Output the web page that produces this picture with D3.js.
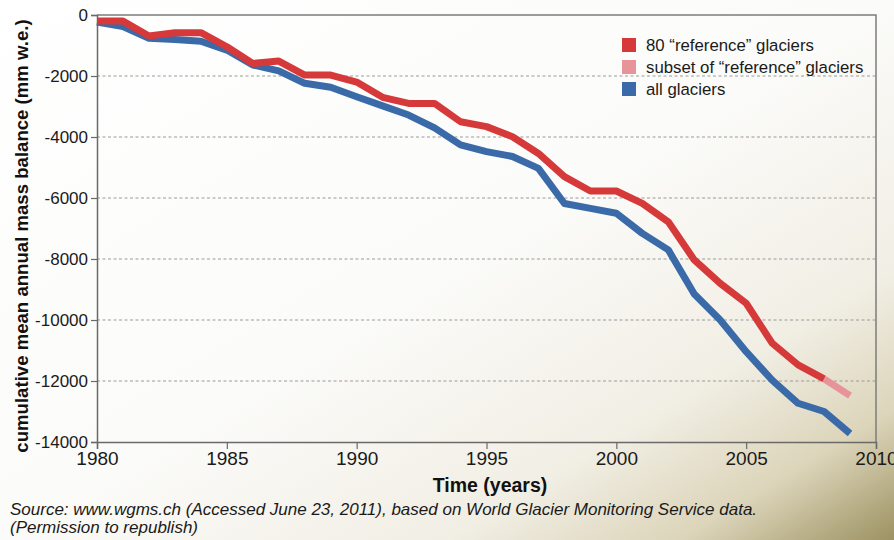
<!DOCTYPE html>
<html>
<head>
<meta charset="utf-8">
<script src="https://d3js.org/d3.v7.min.js"></script>
<style>
html,body{margin:0;padding:0;background:#fff;}
svg{display:block;}
text{font-family:"Liberation Sans",Arial,Helvetica,sans-serif;}
</style>
</head>
<body>
<svg id="chart" width="894" height="540"></svg>
<script>
// ---- data ----
const years = [1980,1981,1982,1983,1984,1985,1986,1987,1988,1989,1990,1991,1992,1993,1994,1995,1996,1997,1998,1999,2000,2001,2002,2003,2004,2005,2006,2007,2008,2009];
const referenceGlaciers = [-200,-200,-690,-580,-580,-1040,-1590,-1510,-1970,-1970,-2200,-2700,-2900,-2900,-3500,-3660,-3990,-4540,-5300,-5770,-5770,-6175,-6780,-8030,-8800,-9450,-10760,-11470,-11930];
const subsetYears = [2008,2009];
const subsetReference = [-11930,-12480];
const allGlaciers = [-230,-380,-760,-800,-860,-1150,-1640,-1830,-2240,-2370,-2680,-2980,-3280,-3700,-4260,-4480,-4640,-5030,-6180,-6340,-6500,-7160,-7700,-9150,-10000,-11040,-11970,-12730,-13000,-13720];
const xTicks = [1980,1985,1990,1995,2000,2005,2010];
const yTicks = [0,-2000,-4000,-6000,-8000,-10000,-12000,-14000];
const legendLabels = ["80 \u201creference\u201d glaciers","subset of \u201creference\u201d glaciers","all glaciers"];
const seriesColors = ["#d6393a","#e6939a","#3a6aa8"];

const svg = d3.select("#chart");
const W = 894, H = 540;

// background gradient
const defs = svg.append("defs");
const grad = defs.append("linearGradient").attr("id","bg")
  .attr("x1","0").attr("y1","0").attr("x2","1").attr("y2","1");
grad.append("stop").attr("offset","0").attr("stop-color","#ffffff");
grad.append("stop").attr("offset","0.5").attr("stop-color","#fbfbf9");
grad.append("stop").attr("offset","0.75").attr("stop-color","#f1eee4");
grad.append("stop").attr("offset","0.88").attr("stop-color","#dcd5ba");
grad.append("stop").attr("offset","1").attr("stop-color","#9d9262");
svg.append("rect").attr("width",W).attr("height",H).attr("fill","url(#bg)");

const m = {left:97, right:876, top:15, bottom:442};
const x = d3.scaleLinear().domain([1980,2010]).range([m.left,m.right]);
const y = d3.scaleLinear().domain([-14000,0]).range([m.bottom,m.top]);

// gridlines
svg.append("g").selectAll("line").data(yTicks.filter(d=>d!==0 && d!==-14000)).join("line")
  .attr("x1",m.left).attr("x2",m.right)
  .attr("y1",d=>y(d)).attr("y2",d=>y(d))
  .attr("stroke","#9a9a9a").attr("stroke-width",1).attr("stroke-dasharray","3,2.5");

// frame top & right
svg.append("path")
  .attr("d",`M${m.left},${m.top}H${m.right}V${m.bottom}`)
  .attr("fill","none").attr("stroke","#7c7c7c").attr("stroke-width",1.5);

// axes
const xAxis = d3.axisBottom(x).tickValues(xTicks).tickFormat(d3.format("d")).tickSizeOuter(0).tickSize(7).tickPadding(4);
const gx = svg.append("g").attr("transform",`translate(0,${m.bottom})`).call(xAxis);
gx.select(".domain").attr("stroke","#6a6a6a").attr("stroke-width",1.5);
gx.selectAll(".tick line").attr("stroke","#6a6a6a").attr("stroke-width",1.2);
gx.selectAll(".tick text").attr("font-size","19px").attr("fill","#1a1a1a")
  .attr("font-family","'Liberation Sans',Arial,sans-serif").attr("dy","0.62em");

const yAxis = d3.axisLeft(y).tickValues(yTicks).tickFormat(d=>d3.format("d")(d).replace("\u2212","-")).tickSizeOuter(0).tickSize(6).tickPadding(3);
const gy = svg.append("g").attr("transform",`translate(${m.left},0)`).call(yAxis);
gy.select(".domain").attr("stroke","#6a6a6a").attr("stroke-width",1.5);
gy.selectAll(".tick line").attr("stroke","#6a6a6a").attr("stroke-width",1.2);
gy.selectAll(".tick text").attr("font-size","17px").attr("fill","#1a1a1a")
  .attr("font-family","'Liberation Sans',Arial,sans-serif");

// lines
const line = d3.line().x(d=>x(d[0])).y(d=>y(d[1])).curve(d3.curveLinear);
const refData = referenceGlaciers.map((v,i)=>[years[i],v]);
const subData = subsetReference.map((v,i)=>[subsetYears[i],v]);
const allData = allGlaciers.map((v,i)=>[years[i],v]);

svg.append("path").datum(allData).attr("d",line)
  .attr("fill","none").attr("stroke",seriesColors[2]).attr("stroke-width",7)
  .attr("stroke-linejoin","round");
svg.append("path").datum(subData).attr("d",line)
  .attr("fill","none").attr("stroke",seriesColors[1]).attr("stroke-width",7);
svg.append("path").datum(refData).attr("d",line)
  .attr("fill","none").attr("stroke",seriesColors[0]).attr("stroke-width",7)
  .attr("stroke-linejoin","round");

// legend
const lg = svg.append("g").attr("transform","translate(622,38)");
legendLabels.forEach((lab,i)=>{
  lg.append("rect").attr("x",0).attr("y",i*22).attr("width",14).attr("height",14).attr("fill",seriesColors[i]);
  lg.append("text").attr("x",24).attr("y",i*22+13).attr("font-size","16.8px").attr("fill","#1a1a1a").text(lab);
});

// axis titles
svg.append("text").attr("x",490).attr("y",492).attr("text-anchor","middle")
  .attr("font-size","19.5px").attr("font-weight","bold").attr("fill","#111").text("Time (years)");
svg.append("text").attr("transform","translate(28,236) rotate(-90)").attr("text-anchor","middle")
  .attr("font-size","18.6px").attr("font-weight","bold").attr("fill","#111")
  .text("cumulative mean annual mass balance (mm w.e.)");

// source
svg.append("text").attr("x",10).attr("y",515).attr("font-size","17px").attr("font-style","italic").attr("fill","#1a1a1a")
  .text("Source: www.wgms.ch (Accessed June 23, 2011), based on World Glacier Monitoring Service data.");
svg.append("text").attr("x",10).attr("y",533).attr("font-size","17px").attr("font-style","italic").attr("fill","#1a1a1a")
  .text("(Permission to republish)");
</script>
</body>
</html>
